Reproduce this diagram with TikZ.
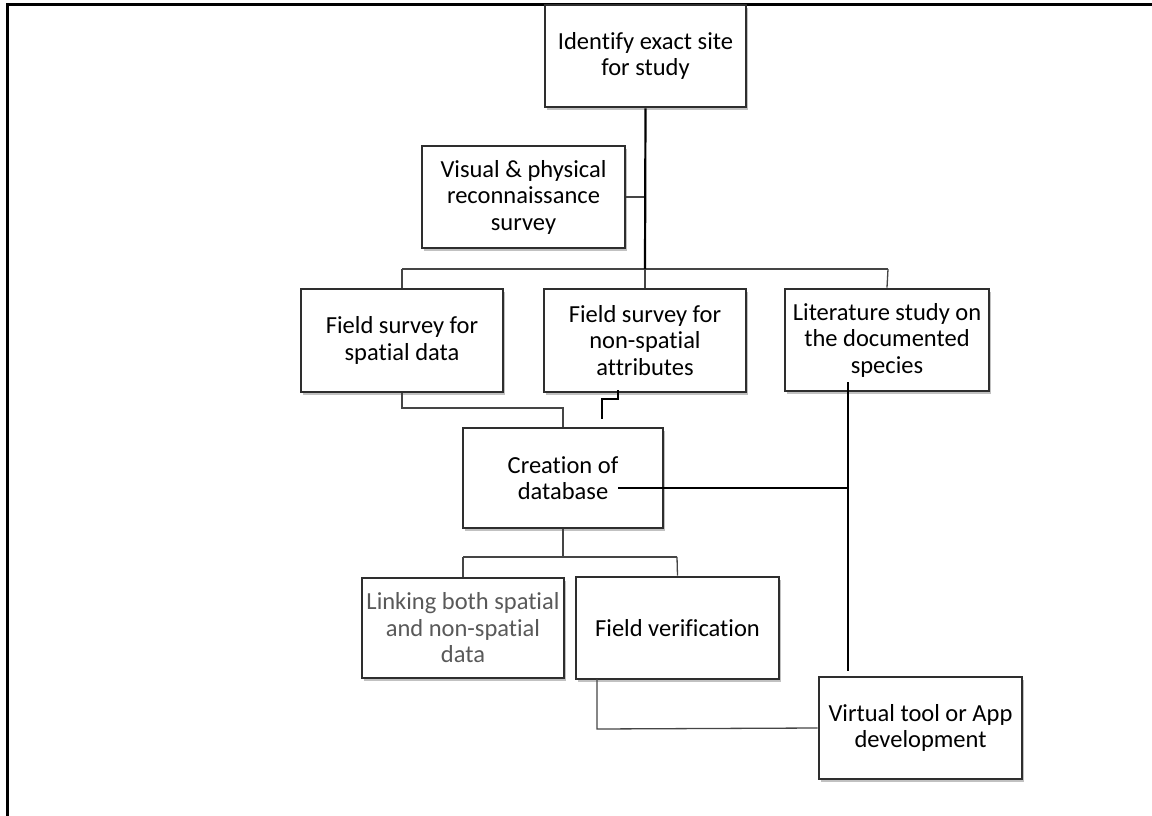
\documentclass[tikz,border=0pt]{standalone}
\usepackage{fontspec}
\setmainfont{Carlito}[Ligatures={NoCommon}]
\usetikzlibrary{shadows}
\definecolor{boxline}{HTML}{2E2E2E}
\definecolor{thinline}{HTML}{454545}
\definecolor{graytext}{HTML}{595959}
\begin{document}
\begin{tikzpicture}[x=1pt,y=-1pt,
  box/.style={draw=boxline, line width=2.8pt, fill=white, align=center,
    minimum width=202pt, minimum height=102pt, inner sep=2pt,
    font=\fontsize{24.5}{26.5}\selectfont,
    drop shadow={opacity=0.35, shadow xshift=2pt, shadow yshift=-3pt, fill=black!70}},
  thin/.style={draw=thinline, line width=1.3pt},
  thick/.style={draw=black, line width=2.2pt},
  frame/.style={draw=black, line width=3pt}]
\useasboundingbox (0,0) rectangle (1152,816);
% frame
\coordinate (f1) at (7,816);
\coordinate (f2) at (7,5);
\coordinate (f3) at (1152,5);
\draw[frame] (f1) -- (f2) -- (f3);

% nodes
\node[box, minimum width=201pt] (ident) at (645.5,56) {Identify exact site\\for study};
\node[box, minimum width=203pt] (visual) at (523.5,197) {Visual \& physical\\reconnaissance\\survey};
\node[box, minimum height=103pt] (spatial) at (402,340.5) {Field survey for\\spatial data};
\node[box, minimum height=103pt] (nonsp) at (645,340.5) {Field survey for\\non-spatial\\attributes};
\node[box, minimum width=204pt] (lit) at (887,340) {Literature study on\\the documented\\species};
\node[box, minimum width=200pt, minimum height=100pt] (db) at (563,478) {Creation of\\database};
\node[box, minimum height=100pt, text=graytext] (link) at (463,628) {Linking both spatial\\and non-spatial\\data};
\node[box, minimum width=203pt] (fver) at (677.5,628) {Field verification};
\node[box, minimum width=203pt] (virt) at (920.5,728) {Virtual tool or App\\development};

% coordinates
\coordinate (bus) at (645,269);
\coordinate (busL) at (402,269);
\coordinate (busR) at (888,269);
\coordinate (sp1) at (402,408);
\coordinate (sp2) at (563,408);
\coordinate (ns0) at (618,390);
\coordinate (ns1) at (618,399);
\coordinate (ns2) at (602,399);
\coordinate (ns3) at (602,419);
\coordinate (db0) at (618,488);
\coordinate (litT) at (848,382);
\coordinate (litB) at (848,671);
\coordinate (litM) at (848,488);
\coordinate (tree) at (563,557);
\coordinate (treeL) at (463,557);
\coordinate (treeR) at (677,557);
\coordinate (fv1) at (597,679);
\coordinate (fv2) at (597,729);

% connectors
\draw[thin] (visual.east) -- (visual.east -| bus);
\draw[thin] (busL) -- (busR);
\draw[thin] (busL) -- (spatial.north);
\draw[thin] (bus) -- (nonsp.north);
\draw[thin] (busR) -- (lit.north);
\draw[thick] (ident.south) -- (bus);
\draw[thin] (spatial.south) -- (sp1) -- (sp2) -- (db.north);
\draw[thick] (ns0) -- (ns1) -- (ns2) -- (ns3);
\draw[thick] (litT) -- (litB);
\draw[thick] (db0) -- (litM);
\draw[thin] (db.south) -- (tree);
\draw[thin] (treeL) -- (treeR);
\draw[thin] (treeL) -- (link.north);
\draw[thin] (treeR) -- (fver.north);
\draw[thin] (fv1) -- (fv2) -- (virt.west);
\end{tikzpicture}
\end{document}
